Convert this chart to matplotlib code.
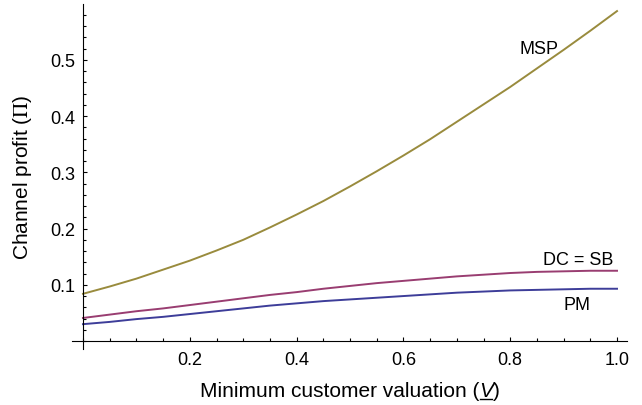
import matplotlib
matplotlib.use("Agg")
import matplotlib.pyplot as plt
from matplotlib.ticker import FixedLocator, MultipleLocator
from matplotlib.lines import Line2D

plt.rcParams['font.family'] = ['Liberation Sans', 'DejaVu Sans']
plt.rcParams['mathtext.fontset'] = 'stix'

# minimum customer valuation and channel profit per strategy
v = [0.0, 0.05, 0.1, 0.15, 0.2, 0.25, 0.3, 0.35, 0.4, 0.45, 0.5,
     0.55, 0.6, 0.65, 0.7, 0.75, 0.8, 0.85, 0.9, 0.95, 1.0]
msp = [0.084, 0.097, 0.111, 0.127, 0.143, 0.161, 0.180, 0.202, 0.225, 0.249, 0.275,
       0.302, 0.330, 0.359, 0.390, 0.421, 0.452, 0.485, 0.518, 0.552, 0.587]
dc_sb = [0.041, 0.047, 0.053, 0.058, 0.064, 0.070, 0.076, 0.082, 0.087, 0.093, 0.098,
         0.103, 0.107, 0.111, 0.115, 0.118, 0.121, 0.123, 0.124, 0.125, 0.125]
pm = [0.030, 0.034, 0.039, 0.043, 0.048, 0.053, 0.058, 0.063, 0.067, 0.071, 0.074,
      0.077, 0.080, 0.083, 0.086, 0.088, 0.090, 0.091, 0.092, 0.093, 0.093]

x_ticks = [0.2, 0.4, 0.6, 0.8, 1.0]
y_ticks = [0.1, 0.2, 0.3, 0.4, 0.5]

c_msp = (0.6, 0.547, 0.24)
c_dc = (0.6, 0.24, 0.4428)
c_pm = (0.24, 0.24, 0.6)

fig = plt.figure(figsize=(6.42, 4.06), dpi=100)
ax = fig.add_axes([72 / 642, 56 / 406, 555 / 642, 345 / 406])

ax.plot(v, msp, color=c_msp, lw=1.4)
ax.plot(v, dc_sb, color=c_dc, lw=1.4)
ax.plot(v, pm, color=c_pm, lw=1.4)

ax.set_xlim(-0.0206, 1.0187)
ax.set_ylim(-0.0142, 0.5996)

# axes cross at the origin, mathematica style
for s in ['top', 'right']:
    ax.spines[s].set_visible(False)
ax.spines['left'].set_position(('data', 0))
ax.spines['bottom'].set_position(('data', 0))
for s in ['left', 'bottom']:
    ax.spines[s].set_linewidth(0.8)

ax.xaxis.set_major_locator(FixedLocator(x_ticks))
ax.xaxis.set_minor_locator(MultipleLocator(0.05))
ax.yaxis.set_major_locator(FixedLocator(y_ticks))
ax.yaxis.set_minor_locator(MultipleLocator(0.02))
ax.set_xticklabels([f"{t:.1f}" for t in x_ticks])
ax.set_yticklabels([f"{t:.1f}" for t in y_ticks])
ax.tick_params(which='both', direction='in', width=0.8, labelsize=13)
ax.tick_params(which='major', length=3.2)
ax.tick_params(which='minor', length=2)
ax.tick_params(axis='x', pad=7)
ax.tick_params(axis='y', pad=5.5)

ax.text(0.854, 0.5125, "MSP", fontsize=13, ha='center', va='baseline')
ax.text(0.927, 0.137, "DC = SB", fontsize=13, ha='center', va='baseline')
ax.text(0.925, 0.057, "PM", fontsize=13, ha='center', va='baseline')

fig.text(22.5 / 642, 1 - 177 / 406, r"Channel profit ($\Pi$)", fontsize=15,
         rotation=90, ha='center', va='center')

# x label with an underlined italic V
t1 = fig.text(200 / 642, 1 - 397 / 406, "Minimum customer valuation (", fontsize=15,
              ha='left', va='baseline')
t2 = ax.annotate("V", xy=(1, 0), xycoords=t1, fontsize=15, fontstyle='italic',
                 ha='left', va='bottom', annotation_clip=False)
t3 = ax.annotate(")", xy=(1, 0), xycoords=t2, fontsize=15,
                 ha='left', va='bottom', annotation_clip=False)
fig.canvas.draw()
bb = t2.get_window_extent()
inv = fig.transFigure.inverted()
(x0, y0), (x1, _) = inv.transform([(bb.x0 + 0.5, 406 - 400), (bb.x1 - 1.5, 0)])
fig.add_artist(Line2D([x0, x1], [y0, y0], color='black', lw=1.0,
                      transform=fig.transFigure))

fig.savefig("out.png", dpi=100)
